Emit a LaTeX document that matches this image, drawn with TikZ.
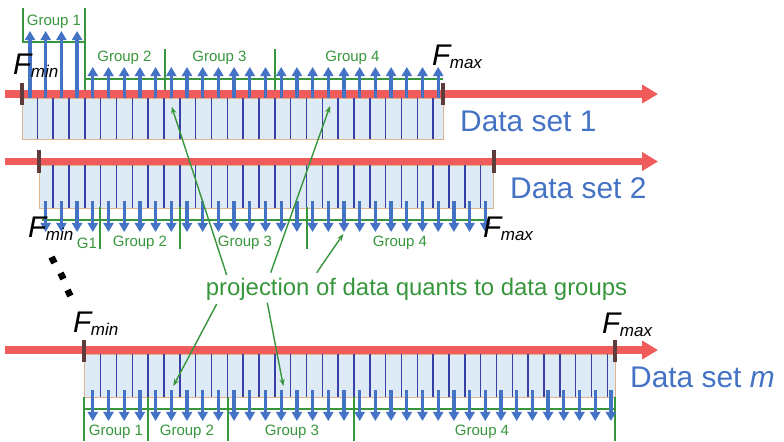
\documentclass[tikz,border=0pt]{standalone}
\usepackage{fontspec}
\setmainfont{Liberation Sans}
\usetikzlibrary{arrows.meta}
\definecolor{axisred}{RGB}{240,92,92}
\definecolor{tickbrown}{RGB}{95,60,60}
\definecolor{quantblue}{RGB}{68,114,196}
\definecolor{cellblue}{RGB}{55,65,165}
\definecolor{cellfill}{RGB}{222,235,247}
\definecolor{cellborder}{RGB}{222,180,140}
\definecolor{groupgreen}{RGB}{55,150,60}
\newcommand\Flabel[1]{{\fontsize{25.5}{30}\selectfont\itshape F}\kern-0.5pt\raisebox{-3.4pt}{\fontsize{14.5}{17}\selectfont\itshape #1}}

\begin{document}
\begin{tikzpicture}[x=0.03cm, y=-0.03cm, >=Stealth,
    axisline/.style={axisred, line width=6pt, -{Triangle[length=13.6pt, width=15.3pt]}},
    rangetick/.style={tickbrown, line width=2.6pt},
    setbox/.style={fill=cellfill, draw=cellborder, line width=0.8pt},
    cellline/.style={cellblue, line width=1.3pt},
    quant/.style={quantblue, line width=2.8pt, -{Triangle[length=7.7pt, width=8.5pt]}},
    bracket/.style={groupgreen, line width=1pt},
    grouplabel/.style={groupgreen, font=\fontsize{12.8}{15}\selectfont, inner sep=0pt},
    setlabel/.style={quantblue, font=\fontsize{25.5}{30}\selectfont, anchor=base west, inner sep=0pt},
    bound/.style={anchor=base west, inner sep=0pt},
    projarrow/.style={groupgreen, line width=1.2pt, -{Stealth[length=6pt, width=4.5pt]}}]

    \useasboundingbox (0,0) rectangle (784,441);
    \def\dq{15.7}  % spacing of quants (px)
    \def\dl{15.83} % spacing of cell lines (px)

    % Data set 1
    \draw[setbox] (22,98) rectangle (443,139);
    \foreach \i in {0,...,25} \draw[cellline] ({37.4+\dl*\i},98) -- ({37.4+\dl*\i},139);
    \draw[axisline] (5,94) -- (658,94);
    \draw[rangetick] (22,83) -- (22,105);
    \draw[rangetick] (443,83) -- (443,105);
    \draw[bracket] (23,8) -- (23,42) -- (85,42);
    \draw[bracket] (85,8) -- (85,90);
    \draw[bracket] (85,79) -- (443,79);
    \draw[bracket] (165,49) -- (165,90) (275,49) -- (275,90);
    \foreach \i in {0,...,3} \draw[quant] ({30+\dq*\i},98) -- ({30+\dq*\i},31);
    \foreach \i in {4,...,26} \draw[quant] ({30+\dq*\i},98) -- ({30+\dq*\i},67);
    \node[grouplabel] (d1g1) at (54,21.5) {Group 1};
    \node[grouplabel] (d1g2) at (124.5,58) {Group 2};
    \node[grouplabel] (d1g3) at (219.5,58) {Group 3};
    \node[grouplabel] (d1g4) at (352.5,58) {Group 4};
    \node[bound] (d1min) at (13,74) {\Flabel{min}};
    \node[bound] (d1max) at (432,65) {\Flabel{max}};
    \node[setlabel] (d1) at (460,131) {Data set 1};

    % Data set 2
    \draw[setbox] (39,165) rectangle (493,208);
    \foreach \i in {1,...,28} \draw[cellline] ({37.4+\dl*\i},165) -- ({37.4+\dl*\i},208);
    \draw[axisline] (5,161.5) -- (658,161.5);
    \draw[rangetick] (39,150) -- (39,173);
    \draw[rangetick] (494,150) -- (494,173);
    \draw[bracket] (42,220) -- (488,220);
    \foreach \x in {100,180,307} \draw[bracket] (\x,207) -- (\x,249);
    \foreach \i in {1,...,29} \draw[quant] ({30+\dq*\i},201) -- ({30+\dq*\i},232);
    \node[grouplabel] (d2g1) at (87,243) {G1};
    \node[grouplabel] (d2g2) at (140,243) {Group 2};
    \node[grouplabel] (d2g3) at (245,243) {Group 3};
    \node[grouplabel] (d2g4) at (400,243) {Group 4};
    \node[bound] (d2min) at (28,237) {\Flabel{min}};
    \node[bound] (d2max) at (483,237) {\Flabel{max}};
    \node[setlabel] (d2) at (510,198) {Data set 2};

    % dots
    \foreach \x/\y in {53/260, 62/276, 69/293}
        \fill[black, rotate around={25:(\x,\y)}] (\x-3.3,\y-3.3) rectangle (\x+3.3,\y+3.3);

    % Data set m
    \draw[setbox] (84,354) rectangle (615,397);
    \foreach \i in {4,...,36} \draw[cellline] ({37.4+\dl*\i},354) -- ({37.4+\dl*\i},397);
    \draw[axisline] (5,350) -- (658,350);
    \draw[rangetick] (84,340) -- (84,362);
    \draw[rangetick] (615,340) -- (615,362);
    \draw[bracket] (84,409) -- (615,409);
    \foreach \x in {84,148,228,354,615} \draw[bracket] (\x,397) -- (\x,441);
    \foreach \i in {4,...,37} \draw[quant] ({30+\dq*\i},390) -- ({30+\dq*\i},421);
    \node[grouplabel] (dmg1) at (116,432) {Group 1};
    \node[grouplabel] (dmg2) at (187,432) {Group 2};
    \node[grouplabel] (dmg3) at (292,432) {Group 3};
    \node[grouplabel] (dmg4) at (482,432) {Group 4};
    \node[bound] (dmmin) at (73,332) {\Flabel{min}};
    \node[bound] (dmmax) at (602,333) {\Flabel{max}};
    \node[setlabel] (dm) at (630,387) {Data set \textit{m}};

    % projection
    \node[groupgreen, font=\fontsize{20.4}{24}\selectfont, anchor=base, inner sep=0pt] (proj) at (416.5,295) {projection of data quants to data groups};
    \coordinate (p1) at (226.7,275);   \coordinate (q1) at (171.7,106.7);
    \coordinate (p2) at (270.7,272.7); \coordinate (q2) at (330,106);
    \coordinate (p3) at (316.7,272.7); \coordinate (q3) at (343.3,234);
    \coordinate (p4) at (216.7,304);   \coordinate (q4) at (173.3,386);
    \coordinate (p5) at (267.3,302.7); \coordinate (q5) at (283.3,386);
    \foreach \k in {1,...,5} \draw[projarrow] (p\k) -- (q\k);
\end{tikzpicture}
\end{document}
